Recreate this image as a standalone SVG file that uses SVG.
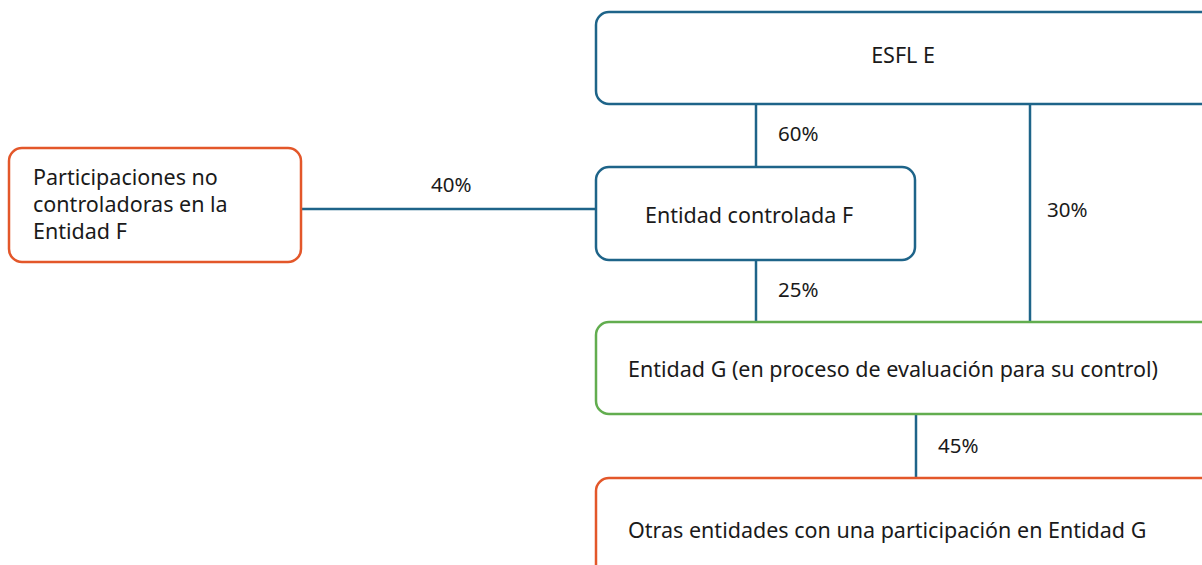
<svg xmlns="http://www.w3.org/2000/svg" width="1202" height="565" viewBox="0 0 1202 565">
<style>
text{font-family:"Noto Sans","Open Sans","DejaVu Sans",sans-serif;font-size:21.5px;fill:#1a1a1a}
.l{font-size:20.5px}
.b{fill:#fff;stroke:#1e6489;stroke-width:2.5}
.o{fill:#fff;stroke:#e3572a;stroke-width:2.5}
.g{fill:#fff;stroke:#62ad4f;stroke-width:2.5}
.c{stroke:#1e6489;stroke-width:2.5;fill:none}
</style>
<rect width="1202" height="565" fill="#fff"/>
<g id="connectors">
<line class="c" x1="756" y1="104" x2="756" y2="167"/>
<line class="c" x1="756" y1="260" x2="756" y2="322"/>
<line class="c" x1="1030" y1="104" x2="1030" y2="322"/>
<line class="c" x1="916" y1="414" x2="916" y2="478"/>
<line class="c" x1="301" y1="209" x2="596" y2="209"/>
<text class="l" x="778" y="141">60%</text>
<text class="l" x="431" y="192">40%</text>
<text class="l" x="1047" y="217">30%</text>
<text class="l" x="778" y="297">25%</text>
<text class="l" x="938" y="453">45%</text>
</g>
<g id="esfl-e">
<rect class="b" x="596" y="12" width="630" height="92" rx="13"/>
<text x="903" y="63" text-anchor="middle">ESFL E</text>
</g>
<g id="participaciones">
<rect class="o" x="9" y="148" width="292" height="114" rx="13"/>
<text x="33" y="185">Participaciones no</text>
<text x="33" y="212">controladoras en la</text>
<text x="33" y="239">Entidad F</text>
</g>
<g id="entidad-f">
<rect class="b" x="596" y="167" width="319" height="93" rx="13"/>
<text x="749" y="223" text-anchor="middle">Entidad controlada F</text>
</g>
<g id="entidad-g">
<rect class="g" x="596" y="322" width="630" height="92" rx="13"/>
<text x="628" y="377">Entidad G (en proceso de evaluación para su control)</text>
</g>
<g id="otras">
<rect class="o" x="596" y="478" width="630" height="110" rx="13"/>
<text x="628" y="538">Otras entidades con una participación en Entidad G</text>
</g>
</svg>
